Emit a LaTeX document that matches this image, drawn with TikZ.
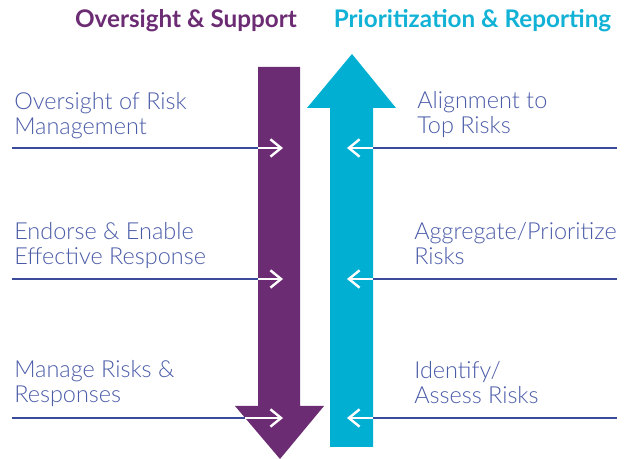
\documentclass[tikz,border=0pt]{standalone}
\usepackage{fontspec}
\setmainfont{Lato}
\newfontfamily\lightfont{Lato Light}
\usetikzlibrary{arrows.meta}
\definecolor{txtblue}{HTML}{4A5BA8}
\definecolor{lineblue}{HTML}{3B4A9B}
\definecolor{purp}{HTML}{6C2C73}
\definecolor{cyanc}{HTML}{00AFD2}
\definecolor{headcyan}{HTML}{12B2D6}
\tikzset{
  lbl/.style={anchor=base west, inner sep=0pt, align=left, text=txtblue,
    font=\lightfont\fontsize{17.6pt}{18.9pt}\selectfont},
  head/.style={anchor=base, inner sep=0pt, font=\bfseries\fontsize{18.2pt}{20pt}\selectfont},
  bline/.style={draw=lineblue, line width=2.2pt},
  warrow/.style={draw=white, line width=1.8pt, -{Straight Barb[length=8pt,width=13pt]}},
}
\begin{document}
\begin{tikzpicture}[x=0.75pt,y=-0.75pt]
\useasboundingbox (0,0) rectangle (632,459);
% headings
\node[head, text=purp] (h1) at (186,28) {Oversight \& Support};
\node[head, text=headcyan] (h2) at (472.5,28) {Prioritization \& Reporting};
% labels (anchored at baseline of last line)
\node[lbl] (t1) at (14,135) {Oversight of Risk\\Management};
\node[lbl] (t2) at (14,265) {Endorse \& Enable\\Effective Response};
\node[lbl] (t3) at (14,403) {Manage Risks \&\\Responses};
\node[lbl] (t4) at (417,134) {Alignment to\\Top Risks};
\node[lbl] (t5) at (414,265) {Aggregate/Prioritize\\Risks};
\node[lbl] (t6) at (414,404) {Identify/\\Assess Risks};
% connector coordinates
\coordinate (la) at (12,148);
\coordinate (lb) at (12,279);
\coordinate (lc) at (12,418);
\coordinate (ra) at (617,148);
\coordinate (rb) at (617,279);
\coordinate (rc) at (617,418);
\coordinate (pa) at (279,148);
\coordinate (pb) at (279,279);
\coordinate (pc) at (279,418);
\coordinate (ca) at (351,148);
\coordinate (cb) at (351,279);
\coordinate (cc) at (351,418);
\draw[bline] (la) -- (pa);
\draw[bline] (lb) -- (pb);
\draw[bline] (lc) -- (pc);
\draw[bline] (ra) -- (ca);
\draw[bline] (rb) -- (cb);
\draw[bline] (rc) -- (cc);
% big arrows
\fill[purp] (258,67) -- (300,67) -- (300,406) -- (324,406) -- (280,459) -- (235,406) -- (258,406) -- cycle;
\fill[cyanc] (330,447) -- (373,447) -- (373,108) -- (396,108) -- (352,54) -- (307,108) -- (330,108) -- cycle;
% white arrows
\coordinate (wa1) at (258,148); \coordinate (wa2) at (283,148);
\coordinate (wb1) at (258,279); \coordinate (wb2) at (283,279);
\coordinate (wc1) at (244.5,418); \coordinate (wc2) at (283,418);
\coordinate (xa1) at (373,148); \coordinate (xa2) at (347,148);
\coordinate (xb1) at (373,279); \coordinate (xb2) at (347,279);
\coordinate (xc1) at (373,418); \coordinate (xc2) at (347,418);
\draw[warrow] (wa1) -- (wa2);
\draw[warrow] (wb1) -- (wb2);
\draw[warrow] (wc1) -- (wc2);
\draw[warrow] (xa1) -- (xa2);
\draw[warrow] (xb1) -- (xb2);
\draw[warrow] (xc1) -- (xc2);
\end{tikzpicture}
\end{document}
